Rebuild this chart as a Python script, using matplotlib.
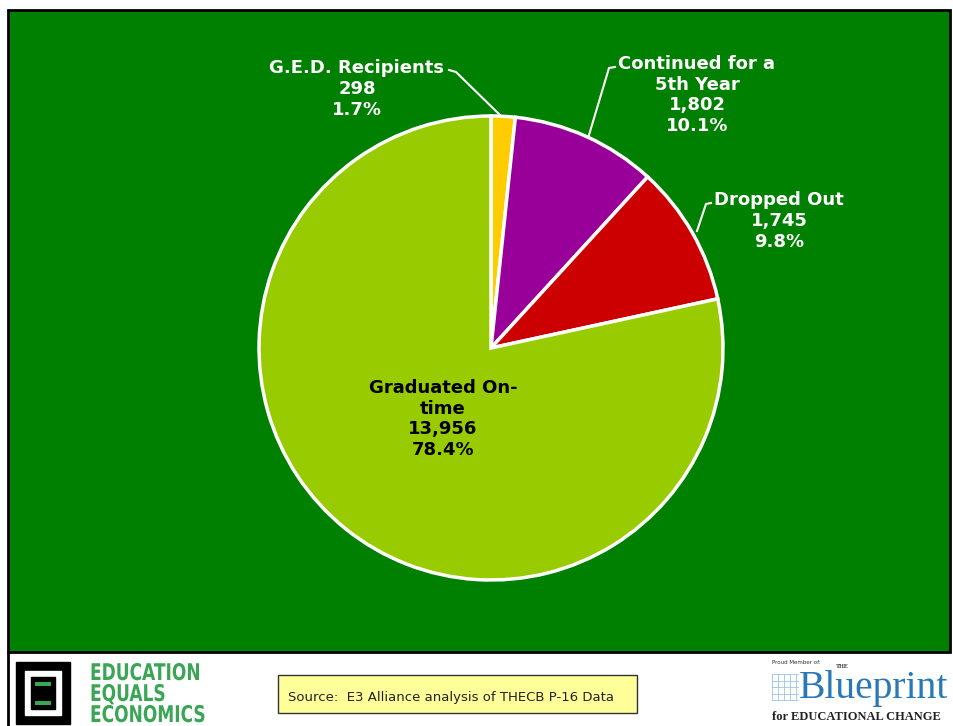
import matplotlib.pyplot as plt
from matplotlib.patches import Rectangle, PathPatch
from matplotlib.textpath import TextPath
from matplotlib.font_manager import FontProperties
from matplotlib.transforms import Affine2D

# data
labels = ["G.E.D. Recipients", "Continued for a\n5th Year", "Dropped Out", "Graduated On-\ntime"]
counts = [298, 1802, 1745, 13956]
colors = ["#FFCC00", "#990099", "#CC0000", "#99CC00"]
source_text = "Source:  E3 Alliance analysis of THECB P-16 Data"
logo_words = ["EDUCATION", "EQUALS", "ECONOMICS"]

W, H = 954, 726
fig = plt.figure(figsize=(W / 100, H / 100), dpi=100)
ax = fig.add_axes([0, 0, 1, 1])

def Y(py):
    return H - py

# green panel with black border
ax.add_patch(Rectangle((8, Y(652)), 942, 642, facecolor="#008000", edgecolor="black", lw=2, zorder=0))
ax.plot([8, 8], [0, Y(652)], color="black", lw=2)

cx, cy, r = 491, Y(348), 232
wedges, _ = ax.pie(counts, colors=colors, startangle=90, counterclock=False,
                   center=(cx, cy), radius=r, frame=True,
                   wedgeprops=dict(edgecolor="white", linewidth=2.5))
ax.set_xlim(0, W)
ax.set_ylim(0, H)
ax.set_aspect("auto")
ax.axis("off")

total = sum(counts)
pcts = [c / total * 100 for c in counts]
lab_pos = [(357, 89), (697, 95), (779, 221), (443, 419)]
for lab, c, p, (lx, ly), col in zip(labels, counts, pcts, lab_pos,
                                    ["white", "white", "white", "black"]):
    ax.text(lx, Y(ly), f"{lab}\n{c:,}\n{p:.1f}%", ha="center", va="center",
            color=col, fontsize=13, fontweight="bold", linespacing=1.2,
            family="DejaVu Sans")

# leader lines
ax.plot([449, 456, 501], [Y(70), Y(72), Y(116)], color="white", lw=1.5)
ax.plot([615, 609, 589], [Y(67), Y(68), Y(135)], color="white", lw=1.5)
ax.plot([711, 706, 697], [Y(203), Y(204), Y(231)], color="white", lw=1.5)

# source box
ax.add_patch(Rectangle((278, Y(713)), 359, 38, facecolor="#FFFF99", edgecolor="#333333", lw=1))
ax.text(288, Y(697), source_text, ha="left", va="center", fontsize=9.5, color="#222222")

# left logo (approximation)
ax.add_patch(Rectangle((16, Y(724)), 54, 62, facecolor="black", edgecolor="black"))
ax.add_patch(Rectangle((25, Y(715)), 36, 44, facecolor="white", edgecolor="white"))
ax.add_patch(Rectangle((31, Y(709)), 24, 32, facecolor="black", edgecolor="black"))
ax.add_patch(Rectangle((35, Y(686)), 16, 4, facecolor="#3aa655", edgecolor="none"))
ax.add_patch(Rectangle((35, Y(705)), 16, 4, facecolor="#3aa655", edgecolor="none"))
fp = FontProperties(family="DejaVu Sans", weight="bold")
for i, w in enumerate(logo_words):
    tp = TextPath((0, 0), w, size=23, prop=fp)
    tr = Affine2D().scale(0.74, 1.0).translate(90, Y(680 + 21 * i))
    ax.add_patch(PathPatch(tr.transform_path(tp), facecolor="#3aa655", edgecolor="none"))

# right logo (approximation)
for k in range(5):
    ax.plot([772 + 6 * k, 772 + 6 * k], [Y(700), Y(674)], color="#9cc3e6", lw=0.6)
    ax.plot([772, 798], [Y(674 + 6.5 * k), Y(674 + 6.5 * k)], color="#9cc3e6", lw=0.6)
ax.text(772, Y(662), "Proud Member of:", fontsize=4, color="#333333", va="center")
ax.text(836, Y(667), "THE", fontsize=4.5, color="#333333", va="center",
        family="Liberation Serif", fontweight="bold")
ax.text(799, Y(698), "Blueprint", fontsize=28.5, color="#2a78b5", va="baseline",
        family="Liberation Serif")
ax.text(772, Y(717), "for EDUCATIONAL CHANGE", fontsize=9, color="#222222", va="center",
        family="Liberation Serif", fontweight="bold")

fig.savefig("out.png", dpi=100, facecolor="white")
